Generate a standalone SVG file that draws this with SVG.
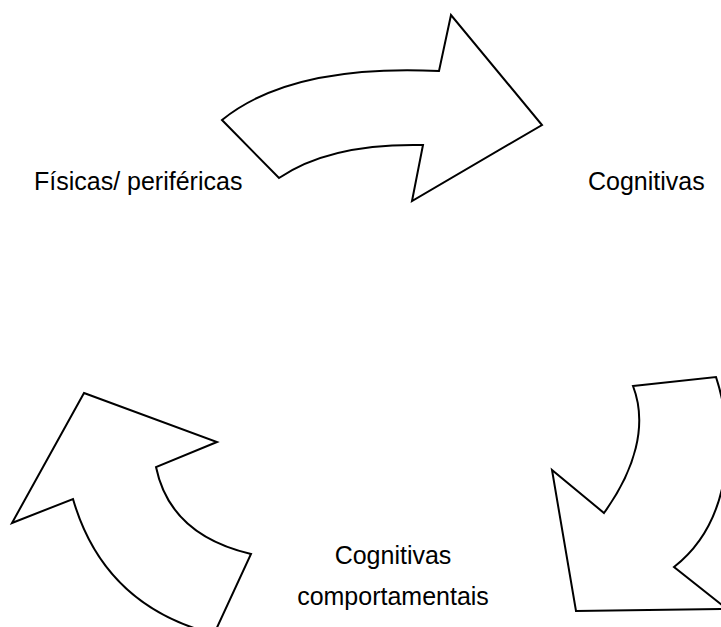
<svg xmlns="http://www.w3.org/2000/svg" width="721" height="627" viewBox="0 0 721 627">
  <style>
    .arrow { fill: #ffffff; stroke: #000000; stroke-width: 2; stroke-linejoin: miter; }
    .label { font-family: "Liberation Sans", Arial, sans-serif; font-size: 25px; fill: #000000; }
  </style>
  <rect width="721" height="627" fill="#ffffff"/>

  <!-- curved block arrows cycling between the three categories -->
  <g id="connectors">
    <path id="arrow-top" class="arrow" d="M222,120 Q291,64 439,71 L451,15 L542,125 L412,201 L423,145 Q330,143 279,178 Z"/>
    <path id="arrow-right" class="arrow" d="M633,386 L716,377 C738,445 728,525 674,567 L727,609 L576,611 L552,470 L604,513 C635,470 648,425 633,386 Z"/>
    <path id="arrow-left" class="arrow" d="M84,393 L217,442 L156,467 Q170,535 251,554 L214,634 Q104,606 73,499 L12,523 Z"/>
  </g>

  <g id="node-fisicas">
    <text class="label" x="34" y="190">Físicas/ periféricas</text>
  </g>
  <g id="node-cognitivas">
    <text class="label" x="588" y="190">Cognitivas</text>
  </g>
  <g id="node-cognitivas-comportamentais">
    <text class="label" x="393" y="564" text-anchor="middle">Cognitivas</text>
    <text class="label" x="393" y="605" text-anchor="middle">comportamentais</text>
  </g>
</svg>
